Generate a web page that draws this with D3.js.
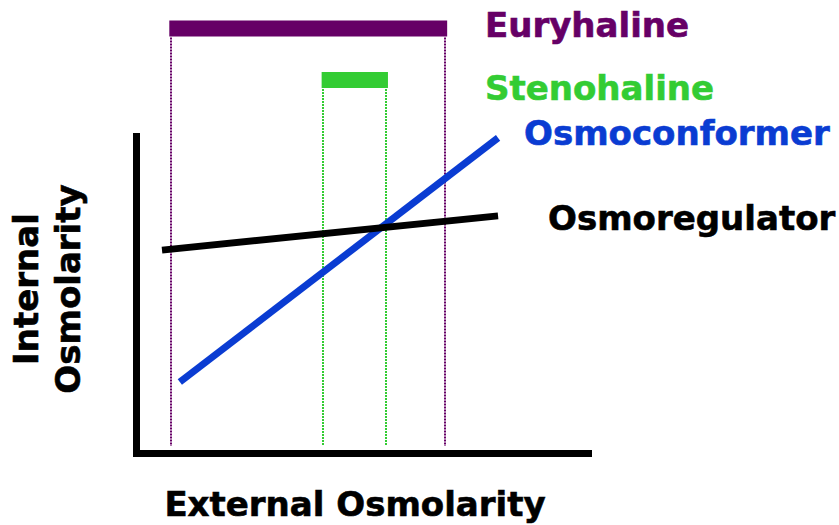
<!DOCTYPE html>
<html>
<head>
<meta charset="utf-8">
<script src="https://cdn.jsdelivr.net/npm/d3@7"></script>
<style>
  html, body { margin: 0; padding: 0; background: #fff; }
  svg { display: block; }
  text { font-family: "DejaVu Sans", Verdana, sans-serif; font-weight: bold; }
</style>
</head>
<body>
<svg id="chart" width="839" height="525"></svg>
<script>
// Tolerance ranges along the external-osmolarity axis (arbitrary units 0–100)
const toleranceNames = ["Euryhaline", "Stenohaline"];
const toleranceRanges = [[7.7, 68.4], [41.4, 55.3]];
const toleranceColors = ["#660066", "#33cc33"];

// Response curves: internal vs external osmolarity
const responseNames = ["Osmoconformer", "Osmoregulator"];
const responseExternal = [[9.7, 80.1], [5.75, 80.1]];
const responseInternal = [[22.4, 99.4], [64.0, 74.8]];
const responseColors = ["#0a3cd2", "#000000"];

const xTitle = "External Osmolarity";
const yTitleLines = ["Internal", "Osmolarity"];

const svg = d3.select("#chart");

const x = d3.scaleLinear().domain([0, 100]).range([136, 588]);
const y = d3.scaleLinear().domain([0, 100]).range([453, 136]);

// Tolerance bars above the plot, with dotted guides down to the axis
const barY = [20.5, 72];
const barH = 16;
const bars = toleranceRanges.map((r, i) => ({ name: toleranceNames[i], lo: r[0], hi: r[1], color: toleranceColors[i], top: barY[i] }));

svg.append("g").selectAll("line.guide")
  .data(bars.flatMap(b => [{ b, v: b.lo }, { b, v: b.hi }]))
  .join("line")
  .attr("x1", d => Math.round(x(d.v))).attr("x2", d => Math.round(x(d.v)))
  .attr("y1", d => d.b.top + barH + 1).attr("y2", 446)
  .attr("stroke", d => d.b.color)
  .attr("stroke-width", 2)
  .attr("stroke-dasharray", "2,1");

svg.append("g").selectAll("rect")
  .data(bars)
  .join("rect")
  .attr("x", d => x(d.lo) - 1.5)
  .attr("width", d => x(d.hi) - x(d.lo) + 3.5)
  .attr("y", d => d.top)
  .attr("height", barH)
  .attr("fill", d => d.color);

// Axes without ticks
const axX = svg.append("g").attr("transform", `translate(0,${y(0)})`)
  .call(d3.axisBottom(x).ticks(0).tickSizeOuter(0));
const axY = svg.append("g").attr("transform", `translate(${x(0)},0)`)
  .call(d3.axisLeft(y).ticks(0).tickSizeOuter(0));
[axX, axY].forEach(a => a.select(".domain")
  .attr("stroke", "#000").attr("stroke-width", 7).attr("stroke-linecap", "square"));

// Response lines
const line = d3.line().x(d => x(d[0])).y(d => y(d[1]));
const responses = responseNames.map((n, i) => ({
  name: n, color: responseColors[i],
  pts: responseExternal[i].map((e, j) => [e, responseInternal[i][j]])
}));
svg.append("g").selectAll("path")
  .data(responses)
  .join("path")
  .attr("d", d => line(d.pts))
  .attr("fill", "none")
  .attr("stroke", d => d.color)
  .attr("stroke-width", 7);

// Labels
const labels = [
  { t: toleranceNames[0], c: toleranceColors[0], x: 485, y: 36.5 },
  { t: toleranceNames[1], c: toleranceColors[1], x: 485, y: 100 },
  { t: responseNames[0], c: responseColors[0], x: 524, y: 145 },
  { t: responseNames[1], c: responseColors[1], x: 548, y: 230 }
];
svg.append("g").selectAll("text")
  .data(labels)
  .join("text")
  .attr("x", d => d.x).attr("y", d => d.y)
  .attr("fill", d => d.c)
  .attr("stroke", d => d.c)
  .attr("stroke-width", 0.6)
  .attr("font-size", 34)
  .text(d => d.t);

svg.append("text")
  .attr("x", 355).attr("y", 516)
  .attr("text-anchor", "middle")
  .attr("font-size", 34)
  .attr("fill", "#000")
  .attr("stroke", "#000")
  .attr("stroke-width", 0.6)
  .text(xTitle);

svg.append("g").selectAll("text")
  .data(yTitleLines)
  .join("text")
  .attr("transform", (d, i) => `translate(${[38, 80][i]},289) rotate(-90)`)
  .attr("text-anchor", "middle")
  .attr("font-size", 34)
  .attr("fill", "#000")
  .attr("stroke", "#000")
  .attr("stroke-width", 0.6)
  .text(d => d);
</script>
</body>
</html>
